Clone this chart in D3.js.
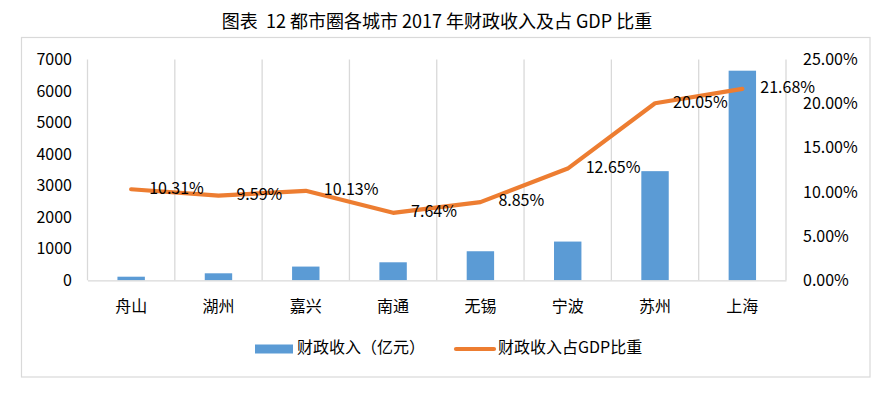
<!DOCTYPE html>
<html>
<head>
<meta charset="utf-8">
<script src="https://cdn.jsdelivr.net/npm/d3@7"></script>
<style>
  body { margin: 0; background: #fff; }
  svg text { font-family: "Noto Sans CJK SC", "Noto Sans", sans-serif; fill: #000; }
</style>
</head>
<body>
<svg id="chart" width="892" height="397"></svg>
<script>
// chart data
const cities = ['舟山', '湖州', '嘉兴', '南通', '无锡', '宁波', '苏州', '上海'];
const revenue = [114, 222, 435, 571, 921, 1228, 3460, 6645];          // 财政收入（亿元）
const gdp_share = [0.1031, 0.0959, 0.1013, 0.0764, 0.0885, 0.1265, 0.2005, 0.2168];
const left_ticks = [0, 1000, 2000, 3000, 4000, 5000, 6000, 7000];
const right_ticks = [0, 0.05, 0.10, 0.15, 0.20, 0.25];

const title_text = '图表  12 都市圈各城市 2017 年财政收入及占 GDP 比重';
const legend_bar = '财政收入（亿元）';
const legend_line = '财政收入占GDP比重';

const BAR_COLOR = '#5B9BD5';
const LINE_COLOR = '#ED7D31';
const GRID_COLOR = '#d9d9d9';

const svg = d3.select('#chart');

// plot area
const plot = { left: 87.5, right: 786, top: 59.5, bottom: 280.3 };

const x = d3.scaleBand().domain(cities).range([plot.left, plot.right]);
const y_left = d3.scaleLinear().domain([0, 7000]).range([plot.bottom, plot.top]);
const y_right = d3.scaleLinear().domain([0, 0.25]).range([plot.bottom, plot.top]);
const bar_w = x.bandwidth() * 0.314;
const cx = c => x(c) + x.bandwidth() / 2;

// outer frame
svg.append('rect')
    .attr('x', 21.5).attr('y', 37.5)
    .attr('width', 848.5).attr('height', 339.5)
    .attr('fill', 'none').attr('stroke', GRID_COLOR).attr('stroke-width', 1.2);

// title
svg.append('text')
    .attr('x', 437).attr('y', 23)
    .attr('text-anchor', 'middle').attr('dominant-baseline', 'middle')
    .style('font-size', '18px').style('white-space', 'pre')
    .text(title_text);

// vertical gridlines at category boundaries
const bounds = cities.map(c => x(c)).concat([plot.right]);
svg.append('g').selectAll('line')
    .data(bounds)
    .join('line')
    .attr('x1', d => d).attr('x2', d => d)
    .attr('y1', plot.top).attr('y2', plot.bottom)
    .attr('stroke', GRID_COLOR).attr('stroke-width', 1.3);

// bars
svg.append('g').selectAll('rect')
    .data(cities)
    .join('rect')
    .attr('x', (c) => cx(c) - bar_w / 2)
    .attr('y', (c, i) => y_left(revenue[i]))
    .attr('width', bar_w)
    .attr('height', (c, i) => plot.bottom - y_left(revenue[i]))
    .attr('fill', BAR_COLOR);

// x axis
const x_axis = svg.append('g')
    .attr('transform', `translate(0, ${plot.bottom})`)
    .call(d3.axisBottom(x).tickSize(0).tickPadding(20));
x_axis.select('.domain').attr('stroke', GRID_COLOR).attr('stroke-width', 1.3);
x_axis.selectAll('text').style('font-size', '16px');

// left axis
const left_axis = svg.append('g')
    .attr('transform', `translate(${plot.left}, 0)`)
    .call(d3.axisLeft(y_left).tickValues(left_ticks).tickSize(0).tickPadding(15.5)
        .tickFormat(d3.format('d')));
left_axis.select('.domain').remove();
left_axis.selectAll('text').style('font-size', '16px');

// right axis, labels left aligned
const right_axis = svg.append('g')
    .attr('transform', `translate(${plot.right}, 0)`)
    .call(d3.axisRight(y_right).tickValues(right_ticks).tickSize(0).tickPadding(17)
        .tickFormat(d3.format('.2%')));
right_axis.select('.domain').remove();
right_axis.selectAll('text').style('font-size', '16px');

// share line
const line = d3.line()
    .x((d, i) => cx(cities[i]))
    .y(d => y_right(d));
svg.append('path')
    .datum(gdp_share)
    .attr('d', line)
    .attr('fill', 'none')
    .attr('stroke', LINE_COLOR)
    .attr('stroke-width', 4.2)
    .attr('stroke-linejoin', 'round')
    .attr('stroke-linecap', 'round');

// data labels, right of each point
svg.append('g').selectAll('text')
    .data(gdp_share)
    .join('text')
    .attr('x', (d, i) => cx(cities[i]) + 18)
    .attr('y', d => y_right(d))
    .attr('dominant-baseline', 'middle')
    .style('font-size', '16px')
    .text(d => d3.format('.2%')(d));

// legend
const legend = svg.append('g');
legend.append('rect')
    .attr('x', 255).attr('y', 344.5).attr('width', 38).attr('height', 9)
    .attr('fill', BAR_COLOR);
legend.append('text')
    .attr('x', 297).attr('y', 349)
    .attr('dominant-baseline', 'middle').style('font-size', '16px')
    .text(legend_bar);
legend.append('line')
    .attr('x1', 456).attr('x2', 494).attr('y1', 349).attr('y2', 349)
    .attr('stroke', LINE_COLOR).attr('stroke-width', 4.2).attr('stroke-linecap', 'round');
legend.append('text')
    .attr('x', 498).attr('y', 349)
    .attr('dominant-baseline', 'middle').style('font-size', '16px')
    .text(legend_line);
</script>
</body>
</html>
